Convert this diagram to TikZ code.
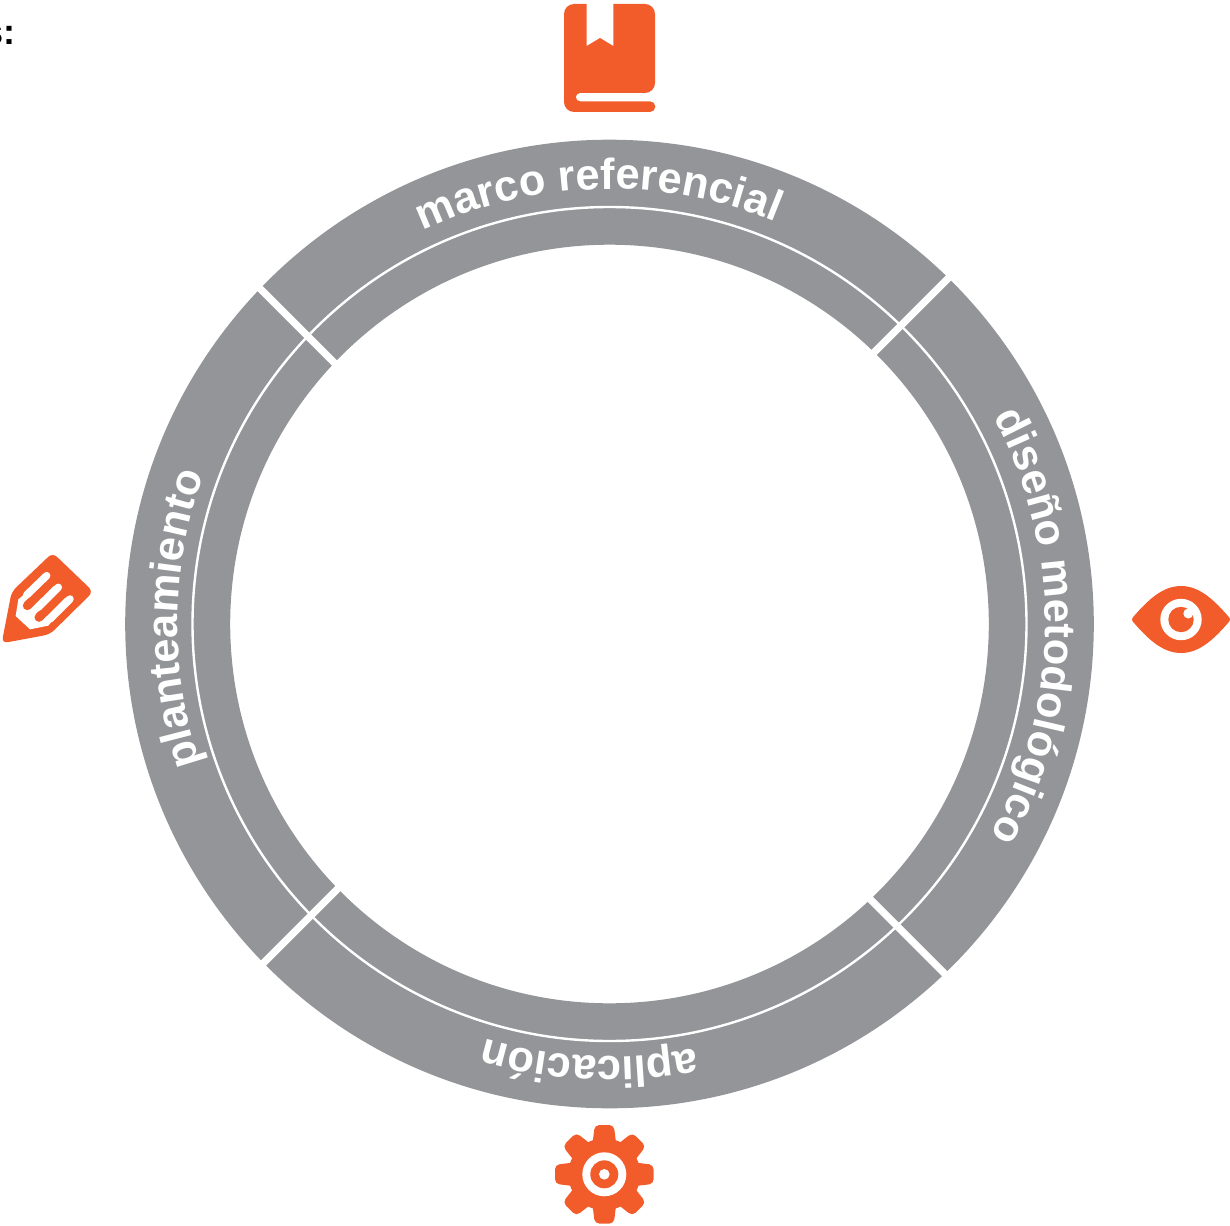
\documentclass[tikz,border=0pt]{standalone}
\usepackage{fontspec}
\setmainfont{Liberation Sans}
\usetikzlibrary{decorations.text}
\definecolor{ringgrey}{HTML}{939598}
\definecolor{iconorange}{HTML}{F25C2A}
\newcommand{\arcfmt}{\color{white}\fontsize{43.5}{43.5}\bfseries\selectfont}
\tikzset{
  x=1pt,y=1pt,
  gapline/.style={white,line width=7.3pt},
  icon/.style={fill=iconorange,draw=none},
  cut/.style={fill=white,draw=none},
  arclabel/.style={decorate,decoration={text along path,text align=center,text={|\arcfmt|#1}}},
}
\begin{document}
\begin{tikzpicture}
\useasboundingbox (0,0) rectangle (1230,-1225);
\coordinate (c) at (609.5,-624);
% ring
\fill[ringgrey,even odd rule] (c) circle[radius=484.3] (c) circle[radius=379.3];
\draw[white,line width=2.4pt] (c) circle[radius=417];
% gaps
\coordinate (tr1) at (960,-266.5); \coordinate (tr2) at (860,-366.5);
\coordinate (tl1) at (248,-276.5); \coordinate (tl2) at (348,-376.5);
\coordinate (bl1) at (252,-974.5); \coordinate (bl2) at (352,-874.5);
\coordinate (br1) at (956,-985); \coordinate (br2) at (856,-885);
\draw[gapline] (tr1) -- (tr2);
\draw[gapline] (tl1) -- (tl2);
\draw[gapline] (bl1) -- (bl2);
\draw[gapline] (br1) -- (br2);
% labels
\path[arclabel={marco referencial}] ([shift={(c)}]131.5:435) arc (131.5:51.5:435);
\path[arclabel={diseño metodológico}] ([shift={(c)}]49.6:436) arc (49.6:-50.4:436);
\path[arclabel={aplicación}] ([shift={(c)}]307.4:433) arc (307.4:227.4:433);
\path[arclabel={planteamiento}] ([shift={(c)}]229.3:432) arc (229.3:129.3:432);
% cut-off caption
\node[anchor=base east,inner sep=0pt,font=\fontsize{36}{36}\bfseries\selectfont] (caption) at (16,-44.7) {s:};
% book
\fill[icon] (574,-4) -- (586.7,-4) -- (586.7,-46) -- (600,-38) -- (613.3,-46) -- (613.3,-4) -- (645,-4)
  arc (90:0:10) -- (655,-83) arc (0:-90:10) -- (580,-93) arc (90:270:4.15) -- (650,-101.3)
  arc (90:-90:5.35) -- (574,-112) arc (270:180:10) -- (564,-14) arc (180:90:10) -- cycle;
% pencil tag
\begin{scope}[shift={(0,-540)},x=0.3333pt,y=-0.3333pt]
  \fill[icon,rounded corners=6pt] (158,38) -- (280,155) -- (150,283) -- (5,310) -- (35,155) -- cycle;
  \fill[cut] (55,178) -- (47,228) -- (90,268) -- (145,257) -- (205,182) -- (135,112) -- cycle;
  \draw[iconorange,line width=9pt,line cap=round] (82,197) -- (165,115);
  \draw[iconorange,line width=9pt,line cap=round] (117,232) -- (200,150);
  \draw[white,line width=7.5pt,line cap=round] (80,165) -- (140,107);
  \draw[white,line width=7.5pt,line cap=round] (115,202) -- (175,142);
  \draw[white,line width=7.5pt,line cap=round] (150,237) -- (210,177);
\end{scope}
% eye
\fill[icon,draw=iconorange,line width=6pt,line join=round] (1135,-619.5) .. controls (1150,-602) and (1164,-589) .. (1181,-589)
  .. controls (1198,-589) and (1212,-602) .. (1227,-619.5)
  .. controls (1212,-637) and (1198,-650) .. (1181,-650)
  .. controls (1164,-650) and (1150,-637) .. (1135,-619.5) -- cycle;
\fill[cut] (1181,-619.5) circle[radius=20.7];
\fill[icon] (1181,-619.5) circle[radius=12.7];
\fill[cut] (1188.3,-613.5) circle[radius=5];
% gear
\coordinate (g) at (604.3,-1174.3);
\foreach \a in {0,45,...,315}{
  \fill[icon,rounded corners=4.5pt,shift={(g)},rotate=\a] (25,-12.5) -- (49.3,-9.5) -- (49.3,9.5) -- (25,12.5) -- cycle;
}
\fill[icon] (g) circle[radius=36];
\fill[cut] (g) circle[radius=22];
\fill[icon] (g) circle[radius=14];
\fill[cut] (g) circle[radius=5.3];
\end{tikzpicture}
\end{document}
